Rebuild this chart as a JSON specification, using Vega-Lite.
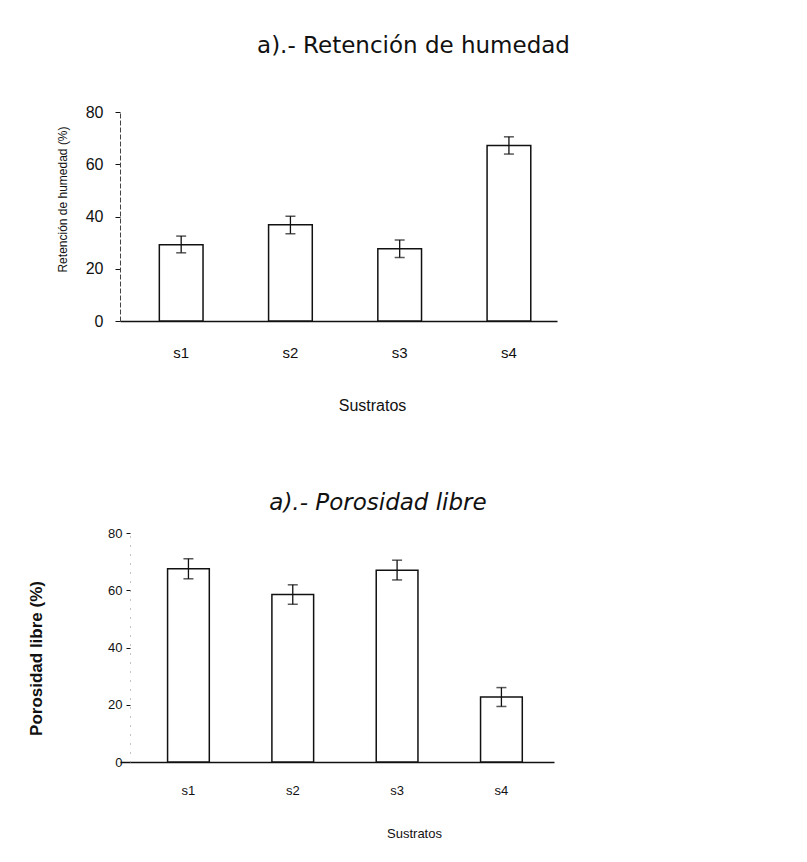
{
  "$schema": "https://vega.github.io/schema/vega-lite/v6.json",
  "background": "white",
  "padding": {"left": 27, "top": 35, "right": 10, "bottom": 10},
  "config": {
    "font": "Liberation Sans",
    "view": {"stroke": null},
    "axis": {"labelColor": "#111", "titleColor": "#111", "domainColor": "#111", "tickColor": "#111", "grid": false, "labelFont": "Liberation Sans", "titleFont": "Liberation Sans"}
  },
  "spacing": 79,
  "vconcat": [
    {
      "width": 437,
      "height": 209,
      "title": {"text": "a).- Retención de humedad", "fontSize": 23, "fontWeight": "normal", "font": "DejaVu Sans", "color": "#111", "frame": "group", "anchor": "middle", "dx": 75, "offset": 46},
      "data": {"values": [
        {"sustrato": "s1", "media": 29.2, "inf": 26.1, "sup": 32.5},
        {"sustrato": "s2", "media": 36.8, "inf": 33.4, "sup": 40.1},
        {"sustrato": "s3", "media": 27.7, "inf": 24.3, "sup": 31.0},
        {"sustrato": "s4", "media": 67.2, "inf": 63.9, "sup": 70.5}
      ]},
      "encoding": {
        "x": {"field": "sustrato", "type": "nominal", "sort": null,
          "scale": {"paddingInner": 0.6, "paddingOuter": 0.3, "align": 0.6},
          "axis": {"title": "Sustratos", "titleFontSize": 16, "titleFontWeight": "normal", "titlePadding": 37, "labelFontSize": 15, "labelAngle": 0, "ticks": false, "labelPadding": 24, "domainWidth": 1.5, "titleX": 252}}
      },
      "layer": [
        {
          "mark": {"type": "bar", "fill": "white", "stroke": "#111", "strokeWidth": 1.5},
          "encoding": {"y": {"field": "media", "type": "quantitative", "scale": {"domain": [0, 80]},
            "axis": {"title": "Retención de humedad (%)", "titleFontSize": 12, "titleFontWeight": "normal", "titlePadding": 16, "labelFontSize": 16, "values": [0, 20, 40, 60, 80], "tickSize": 5, "labelPadding": 12, "domainDash": [5, 2], "domainColor": "#444", "titleY": 87}}}
        },
        {
          "mark": {"type": "rule", "color": "#111", "strokeWidth": 1.3},
          "encoding": {"y": {"field": "inf", "type": "quantitative"}, "y2": {"field": "sup"}}
        },
        {
          "mark": {"type": "tick", "color": "#111", "thickness": 1.5, "size": 10},
          "encoding": {"y": {"field": "inf", "type": "quantitative"}}
        },
        {
          "mark": {"type": "tick", "color": "#111", "thickness": 1.5, "size": 10},
          "encoding": {"y": {"field": "sup", "type": "quantitative"}}
        }
      ]
    },
    {
      "width": 434,
      "height": 229,
      "title": {"text": "a).- Porosidad libre", "fontSize": 23, "fontWeight": "normal", "fontStyle": "italic", "font": "DejaVu Sans", "color": "#111", "frame": "group", "anchor": "middle", "dx": 41, "offset": 12},
      "data": {"values": [
        {"sustrato": "s1", "media": 67.5, "inf": 64.0, "sup": 71.0},
        {"sustrato": "s2", "media": 58.5, "inf": 55.1, "sup": 61.9},
        {"sustrato": "s3", "media": 67.0, "inf": 63.6, "sup": 70.5},
        {"sustrato": "s4", "media": 22.7, "inf": 19.4, "sup": 26.0}
      ]},
      "encoding": {
        "x": {"field": "sustrato", "type": "nominal", "sort": null,
          "scale": {"paddingInner": 0.6, "paddingOuter": 0.38, "align": 0.6},
          "axis": {"title": "Sustratos", "titleFontSize": 13, "titleFontWeight": "normal", "titlePadding": 30, "labelFontSize": 13, "labelAngle": 0, "ticks": false, "labelPadding": 22, "domainWidth": 1.5, "titleX": 294}}
      },
      "layer": [
        {
          "mark": {"type": "bar", "fill": "white", "stroke": "#111", "strokeWidth": 1.5},
          "encoding": {"y": {"field": "media", "type": "quantitative", "scale": {"domain": [0, 80]},
            "axis": {"title": "Porosidad libre (%)", "titleFontSize": 17, "titleFontWeight": "bold", "titlePadding": 62, "labelFontSize": 13, "values": [0, 20, 40, 60, 80], "tickSize": 4, "labelPadding": 4, "offset": -10, "domainDash": [1, 8], "domainColor": "#888", "titleY": 125}}}
        },
        {
          "mark": {"type": "rule", "color": "#111", "strokeWidth": 1.3},
          "encoding": {"y": {"field": "inf", "type": "quantitative"}, "y2": {"field": "sup"}}
        },
        {
          "mark": {"type": "tick", "color": "#111", "thickness": 1.5, "size": 10},
          "encoding": {"y": {"field": "inf", "type": "quantitative"}}
        },
        {
          "mark": {"type": "tick", "color": "#111", "thickness": 1.5, "size": 10},
          "encoding": {"y": {"field": "sup", "type": "quantitative"}}
        }
      ]
    }
  ]
}
